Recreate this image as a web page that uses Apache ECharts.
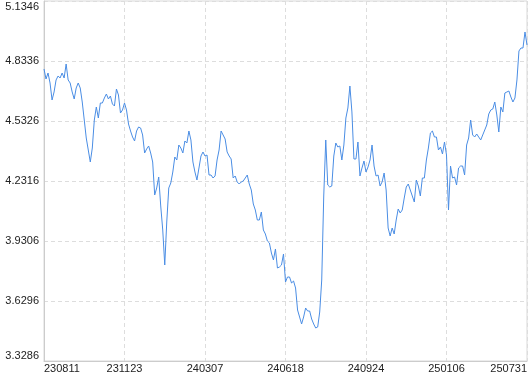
<!DOCTYPE html>
<html>
<head>
<meta charset="utf-8">
<script src="https://cdn.jsdelivr.net/npm/echarts@6/dist/echarts.min.js"></script>
<style>html,body{margin:0;padding:0;background:#fff}#c{width:530px;height:374px}</style>
</head>
<body>
<div id="c"></div>
<script>
const tickLabels = ['230811','231123','240307','240618','240924','250106','250731'];
const tickStep = 40;
const values = [
4.7935,4.7433,4.7734,4.7232,4.6380,4.6781,4.7383,4.7584,4.7483,4.7734,
4.7483,4.8186,4.7383,4.7232,4.6781,4.6430,4.6982,4.7232,4.6982,4.6279,
4.5376,4.4473,4.3871,4.3269,4.3971,4.5376,4.6028,4.5476,4.6229,4.6229,
4.6480,4.6680,4.6430,4.6580,4.6179,4.6078,4.6931,4.6630,4.5727,4.5878,
4.6229,4.5878,4.5176,4.4824,4.4523,4.4323,4.4824,4.5025,4.4975,4.4624,
4.3721,4.3921,4.4072,4.3721,4.3269,4.1614,4.1965,4.2517,4.1062,3.9858,
3.8102,4.0259,4.1965,4.2216,4.2767,4.3520,4.3369,4.4122,4.3971,4.3721,
4.4323,4.4222,4.4824,4.4373,4.3269,4.2767,4.2366,4.2968,4.3570,4.3771,
4.3570,4.3620,4.2617,4.2617,4.2466,4.2567,4.3369,4.3871,4.4824,4.4624,
4.4423,4.3771,4.3570,4.3420,4.2466,4.2567,4.2266,4.2165,4.2266,4.2316,
4.2466,4.2617,4.2165,4.1864,4.1162,4.0861,4.0359,4.0359,4.0761,3.9858,
3.9657,3.9306,3.9206,3.8704,3.8353,3.8905,3.7951,3.8002,3.8102,3.8654,
3.7249,3.7500,3.7500,3.7199,3.7299,3.6948,3.5844,3.5493,3.5142,3.5493,
3.5945,3.5794,3.5794,3.5393,3.5142,3.4941,3.4992,3.5744,3.7349,4.1563,
4.4373,4.2115,4.2015,4.2065,4.3570,4.4222,4.4022,4.4072,4.3369,4.4122,
4.5476,4.5978,4.7082,4.5778,4.3420,4.3420,4.4272,4.2567,4.2968,4.3319,
4.2767,4.3018,4.3369,4.4122,4.3068,4.2567,4.2617,4.2065,4.2266,4.2717,
4.1864,3.9958,3.9557,3.9958,3.9657,4.0359,4.0911,4.0711,4.0861,4.1463,
4.2015,4.2165,4.1864,4.1563,4.1262,4.2366,4.2065,4.1563,4.2466,4.2466,
4.3369,4.3971,4.4724,4.4824,4.4523,4.4523,4.3871,4.4022,4.3670,4.4272,
4.3620,4.0861,4.3068,4.2466,4.2517,4.2115,4.2968,4.3068,4.3068,4.2617,
4.4122,4.4473,4.5376,4.4624,4.4523,4.4674,4.4523,4.4373,4.4624,4.4875,
4.5125,4.5677,4.5878,4.5928,4.6279,4.5627,4.4774,4.6028,4.5778,4.6731,
4.6781,4.6831,4.6530,4.6279,4.6480,4.7383,4.8838,4.8988,4.8988,4.9791,
4.9139
];
const yMin = 3.3286, yMax = 5.1346, yStep = 0.301;

const categories = values.map((v, i) => (i % tickStep === 0 ? tickLabels[i / tickStep] : ''));

const chart = echarts.init(document.getElementById('c'), null, {renderer: 'canvas'});
const font = 'Liberation Sans';
chart.setOption({
  animation: false,
  grid: {left: 44, right: 2, top: 1, bottom: 13, show: true, borderColor: '#d8d8d8', borderWidth: 1},
  xAxis: {
    type: 'category',
    data: categories,
    boundaryGap: false,
    axisLine: {lineStyle: {color: '#cccccc'}},
    axisTick: {show: false},
    axisLabel: {
      interval: tickStep - 1, color: '#222', fontSize: 11, fontFamily: font, margin: 2,
      alignMinLabel: 'left', alignMaxLabel: 'right'
    },
    splitLine: {show: true, interval: tickStep - 1, lineStyle: {color: '#dddddd', type: [4, 3]}}
  },
  yAxis: {
    type: 'value',
    min: yMin, max: yMax, interval: yStep,
    axisLine: {show: true, lineStyle: {color: '#cccccc'}},
    axisTick: {show: false},
    axisLabel: {
      color: '#222', fontSize: 11, fontFamily: font, margin: 5,
      formatter: v => v.toFixed(4),
      verticalAlignMinLabel: 'bottom', verticalAlignMaxLabel: 'top'
    },
    splitLine: {show: true, lineStyle: {color: '#dddddd', type: [4, 3]}}
  },
  series: [{
    type: 'line',
    data: values,
    symbol: 'none',
    lineStyle: {color: '#4a8de4', width: 1},
    itemStyle: {color: '#4a8de4'}
  }]
});
</script>
</body>
</html>
